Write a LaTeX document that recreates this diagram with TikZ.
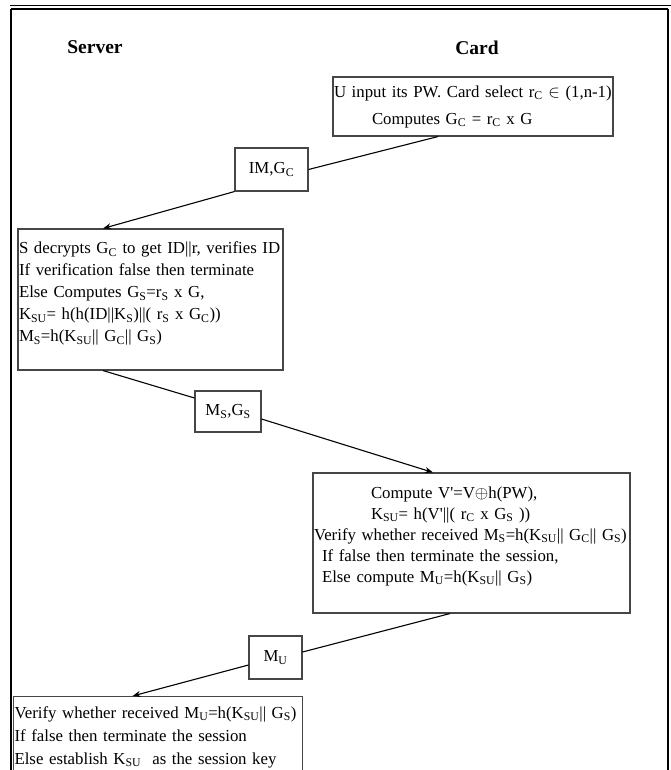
\documentclass[tikz,border=0pt]{standalone}
\usepackage{fontspec}
\setmainfont{Liberation Serif}
\usepackage{tikz}
\usetikzlibrary{arrows.meta}
\definecolor{BoxGray}{RGB}{70,70,70}

\begin{document}
\begin{tikzpicture}[x=1pt,y=-1pt,
	body/.style={font=\fontsize{16.8}{22}\selectfont},
	hdr/.style={font=\fontsize{19.5}{22}\selectfont\bfseries},
	stepbox/.style={body,draw=BoxGray,line width=1.1pt,inner xsep=1pt,inner ysep=3pt,align=left},
	msgbox/.style={body,draw=BoxGray,line width=1.1pt,inner sep=1pt},
	link/.style={line width=1.1pt},
	msg/.style={line width=1.1pt,-{Stealth[length=8pt,width=6pt]}}]
				\useasboundingbox (0,0) rectangle (671,770);
				\clip (0,0) rectangle (671,770);
				
				% frame
				\draw[line width=0.8pt] (10,5)--(671,5);
				\draw[line width=2pt] (11,9)--(668,9);
				\draw[line width=2pt] (11,9)--(11,770);
				\draw[line width=2pt] (668,9)--(668,770);
				
				\node[hdr] (srv) at (95,47) {Server};
				\node[hdr] (crd) at (477,48) {Card};
				
				\node[stepbox,text width=278pt,minimum height=59pt] (c1) at (473,106.5)
				{U input its PW. Card select r\textsubscript{C} $\in$ (1,n-1)\\[5pt]
					\hspace*{38pt}Computes G\textsubscript{C} = r\textsubscript{C} x G};
				\node[msgbox,minimum width=73pt,minimum height=43pt] (im) at (271.5,169.5) {IM,G\textsubscript{C}};
				
				\node[stepbox,text width=263pt,minimum height=141pt] (s2) at (150.5,299.5)
				{S decrypts G\textsubscript{C} to get ID||r, verifies ID\\
					If verification false then terminate\\
					Else Computes G\textsubscript{S}=r\textsubscript{S} x G,\\
					K\textsubscript{SU}= h(h(ID||K\textsubscript{S})||( r\textsubscript{S} x G\textsubscript{C}))\\
					M\textsubscript{S}=h(K\textsubscript{SU}|| G\textsubscript{C}|| G\textsubscript{S})\\[-6pt]\mbox{}};
				\node[msgbox,minimum width=66pt,minimum height=41pt] (ms) at (228,411.5) {M\textsubscript{S},G\textsubscript{S}};
				
				\node[stepbox,text width=315pt,minimum height=140pt,font=\fontsize{16.8}{21}\selectfont] (c3) at (471.5,543)
				{\hspace*{57pt}Compute V\textquotesingle=V$\oplus$h(PW),\\
					\hspace*{57pt}K\textsubscript{SU}= h(V\textquotesingle||( r\textsubscript{C} x G\textsubscript{S} ))\\
					Verify whether received M\textsubscript{S}=h(K\textsubscript{SU}|| G\textsubscript{C}|| G\textsubscript{S})\\
					\hspace*{8pt}If false then terminate the session,\\
					\hspace*{8pt}Else compute M\textsubscript{U}=h(K\textsubscript{SU}|| G\textsubscript{S})\\[-4pt]\mbox{}};
				\node[msgbox,minimum width=53pt,minimum height=43pt] (mu) at (275.5,657.5) {M\textsubscript{U}};
				
				\node[stepbox,anchor=north west,text width=287pt,minimum height=81pt,font=\fontsize{16.8}{23}\selectfont] (s4) at (13,696)
				{Verify whether received M\textsubscript{U}=h(K\textsubscript{SU}|| G\textsubscript{S})\\
					If false then terminate the session\\
					Else establish K\textsubscript{SU}\ \ as the session key};
				
				\draw[link] ([xshift=-35pt]c1.south)--(im.east);
				\draw[msg] (im.south west)--([xshift=-47.5pt]s2.north);
				\draw[link] ([xshift=-47.5pt]s2.south)--([yshift=13.5pt]ms.west);
				\draw[msg] ([yshift=-7.5pt]ms.east)--([xshift=-38.5pt]c3.north);
				\draw[link] ([xshift=-21.5pt]c3.south)--([yshift=5.5pt]mu.east);
				\draw[msg] ([yshift=-7.5pt]mu.west)--([xshift=-25.5pt]s4.north);
			\end{tikzpicture}
\end{document}
